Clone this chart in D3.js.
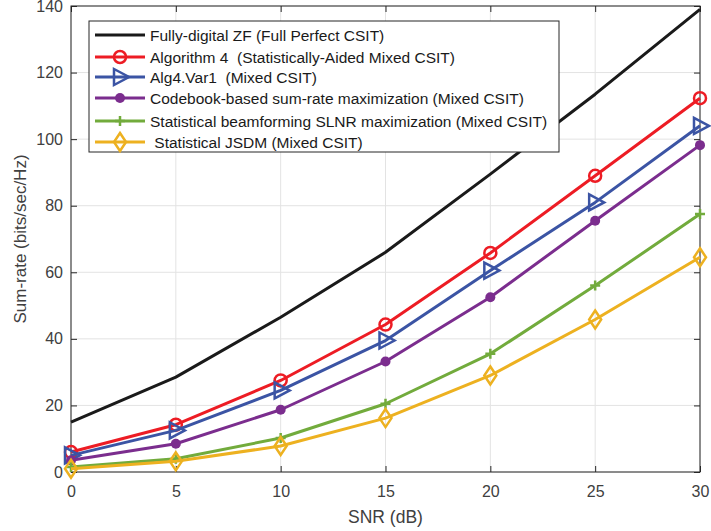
<html>
<head>
<meta charset="utf-8">
<title>Sum-rate vs SNR</title>
<script src="https://cdn.jsdelivr.net/npm/d3@7"></script>
<style>
  body { margin: 0; background: #fff; }
  text { font-family: "Liberation Sans", Arial, sans-serif; }
</style>
</head>
<body>
<script>
    var width = 711, height = 531;
    var margin = {left: 71, right: 11, top: 6, bottom: 59};

    // data
    var snr = [0, 5, 10, 15, 20, 25, 30];
    var zfFull   = [15, 28.5, 46.5, 66, 89.5, 113.5, 139];
    var alg4     = [6, 14.2, 27.5, 44.3, 65.8, 89, 112.3];
    var alg4Var1 = [5, 12.5, 24.5, 39.5, 60.5, 81, 104];
    var codebook = [3.5, 8.5, 18.7, 33.2, 52.5, 75.5, 98.2];
    var slnr     = [1.5, 4, 10.2, 20.5, 35.5, 56, 77.5];
    var jsdm     = [1, 3.2, 7.8, 16.2, 29, 45.8, 64.5];
    var xTicks = [0, 5, 10, 15, 20, 25, 30];
    var yTicks = [0, 20, 40, 60, 80, 100, 120, 140];

    var series = [
        {name: "Fully-digital ZF (Full Perfect CSIT)", values: zfFull, color: "#1a1a1a", marker: "none"},
        {name: "Algorithm 4  (Statistically-Aided Mixed CSIT)", values: alg4, color: "#ed1c24", marker: "circle"},
        {name: "Alg4.Var1  (Mixed CSIT)", values: alg4Var1, color: "#3b54a4", marker: "triangle"},
        {name: "Codebook-based sum-rate maximization (Mixed CSIT)", values: codebook, color: "#7b2d8e", marker: "dot"},
        {name: "Statistical beamforming SLNR maximization (Mixed CSIT)", values: slnr, color: "#72ab3c", marker: "plus"},
        {name: " Statistical JSDM (Mixed CSIT)", values: jsdm, color: "#edb120", marker: "diamond"}
    ];

    var iw = width - margin.left - margin.right;
    var ih = height - margin.top - margin.bottom;

    var svg = d3.select("body").append("svg")
            .attr("width", width)
            .attr("height", height);
    var g = svg.append("g")
            .attr("transform", "translate(" + margin.left + "," + margin.top + ")");

    var x = d3.scaleLinear().domain([0, 30]).range([0, iw]);
    var y = d3.scaleLinear().domain([0, 140]).range([ih, 0]);

    // grid
    g.selectAll(".gx").data(xTicks).enter().append("line")
            .attr("x1", d => x(d)).attr("x2", d => x(d))
            .attr("y1", 0).attr("y2", ih)
            .attr("stroke", "#e3e3e3").attr("stroke-width", 1);
    g.selectAll(".gy").data(yTicks).enter().append("line")
            .attr("y1", d => y(d)).attr("y2", d => y(d))
            .attr("x1", 0).attr("x2", iw)
            .attr("stroke", "#e3e3e3").attr("stroke-width", 1);

    // axes (ticks inside, box on)
    var axisColor = "#262626";
    function styleAxis(sel) {
        sel.select(".domain").remove();
        sel.selectAll(".tick line").attr("stroke", axisColor);
        sel.selectAll(".tick text").attr("fill", "#404040").style("font-size", "16px");
    }
    g.append("g").attr("transform", "translate(0," + ih + ")")
            .call(d3.axisBottom(x).tickValues(xTicks).tickSizeInner(-6).tickSizeOuter(0).tickPadding(14))
            .call(styleAxis);
    g.append("g")
            .call(d3.axisTop(x).tickValues(xTicks).tickSizeInner(-6).tickSizeOuter(0).tickFormat(""))
            .call(styleAxis);
    g.append("g")
            .call(d3.axisLeft(y).tickValues(yTicks).tickSizeInner(-6).tickSizeOuter(0).tickPadding(8))
            .call(styleAxis);
    g.append("g").attr("transform", "translate(" + iw + ",0)")
            .call(d3.axisRight(y).tickValues(yTicks).tickSizeInner(-6).tickSizeOuter(0).tickFormat(""))
            .call(styleAxis);
    g.append("rect").attr("width", iw).attr("height", ih)
            .attr("fill", "none").attr("stroke", axisColor).attr("stroke-width", 1);

    // axis labels
    svg.append("text").attr("x", margin.left + iw / 2).attr("y", 523)
            .attr("text-anchor", "middle").attr("fill", "#404040").style("font-size", "17.5px")
            .text("SNR (dB)");
    svg.append("text")
            .attr("transform", "translate(26," + (margin.top + ih / 2) + ") rotate(-90)")
            .attr("text-anchor", "middle").attr("fill", "#404040").style("font-size", "17px")
            .text("Sum-rate (bits/sec/Hz)");

    // marker drawing
    function drawMarker(sel, type, color) {
        if (type == "circle") {
            sel.append("circle").attr("r", 6).attr("fill", "none")
                    .attr("stroke", color).attr("stroke-width", 2.5);
        } else if (type == "dot") {
            sel.append("circle").attr("r", 5).attr("fill", color);
        } else if (type == "triangle") {
            sel.append("path").attr("d", "M-6,-8L9,0L-6,8Z").attr("fill", "none")
                    .attr("stroke", color).attr("stroke-width", 2.5).attr("stroke-linejoin", "miter");
        } else if (type == "plus") {
            sel.append("path").attr("d", "M-5,0L5,0M0,-5L0,5").attr("fill", "none")
                    .attr("stroke", color).attr("stroke-width", 2.5);
        } else if (type == "diamond") {
            sel.append("path").attr("d", "M0,-9L6,0L0,9L-6,0Z").attr("fill", "none")
                    .attr("stroke", color).attr("stroke-width", 2.5);
        }
    }

    var line = d3.line().x((d, i) => x(snr[i])).y(d => y(d));
    var plot = g.append("g");

    series.forEach(function (s) {
        plot.append("path").datum(s.values)
                .attr("d", line)
                .attr("fill", "none")
                .attr("stroke", s.color)
                .attr("stroke-width", 3)
                .attr("stroke-linejoin", "round");
        if (s.marker != "none") {
            plot.selectAll(null).data(s.values).enter().append("g")
                    .attr("transform", (d, i) => "translate(" + x(snr[i]) + "," + y(d) + ")")
                    .each(function () { drawMarker(d3.select(this), s.marker, s.color); });
        }
    });

    // legend
    var lg = svg.append("g").attr("transform", "translate(89,21)");
    lg.append("rect").attr("width", 470).attr("height", 131)
            .attr("fill", "#fff").attr("stroke", "#262626").attr("stroke-width", 1);
    var rowY = [14, 36, 56, 77, 100, 121];
    series.forEach(function (s, i) {
        var row = lg.append("g").attr("transform", "translate(0," + rowY[i] + ")");
        row.append("line").attr("x1", 6).attr("x2", 56).attr("y1", 0).attr("y2", 0)
                .attr("stroke", s.color).attr("stroke-width", 3);
        if (s.marker != "none") {
            var m = row.append("g").attr("transform", "translate(31,0)");
            drawMarker(m, s.marker, s.color);
        }
        row.append("text").attr("x", 61).attr("y", 5.5)
                .attr("fill", "#1a1a1a").style("font-size", "15.5px")
                .attr("xml:space", "preserve")
                .style("white-space", "pre")
                .text(s.name);
    });
</script>
</body>
</html>
